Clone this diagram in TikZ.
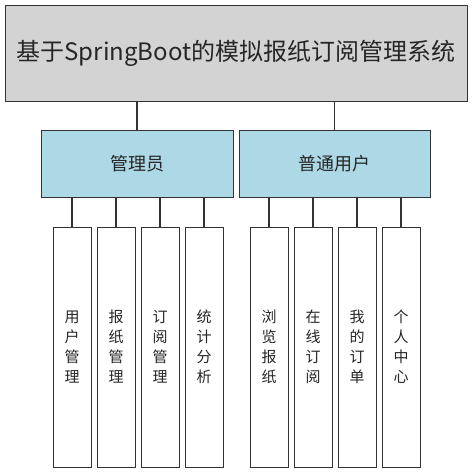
\documentclass[tikz,border=0pt]{standalone}
\usepackage{fontspec}
\newfontfamily\cjk{Noto Sans CJK SC}
\usetikzlibrary{positioning}
\definecolor{roleblue}{HTML}{ADD8E6}
\definecolor{sysgray}{HTML}{D3D3D3}
\tikzset{
	box/.style={draw=black!80, line width=0.9pt, inner sep=0pt, text=black!85},
	link/.style={draw=black!80, line width=1.5pt},
	leafbox/.style={box, fill=white, minimum width=38pt, minimum height=240pt, align=center, font=\cjk\fontsize{15}{20}\selectfont}
}
\begin{document}
\begin{tikzpicture}[x=1pt, y=-1pt]
			%%%%% START %%%%%
			\useasboundingbox (0, 0) rectangle (472, 473);
			
			\node[box, fill=sysgray, minimum width=462pt, minimum height=96pt, font=\cjk\fontsize{24}{28}\selectfont] (sys) at (236, 53) {基于SpringBoot的模拟报纸订阅管理系统};
			
			\node[box, fill=roleblue, minimum width=192pt, minimum height=67pt, font=\cjk\fontsize{18}{22}\selectfont] (admin) at (137, 163.5) {管理员};
			\node[box, fill=roleblue, minimum width=191pt, minimum height=67pt, font=\cjk\fontsize{18}{22}\selectfont] (user) at (334.5, 163.5) {普通用户};
			
			\draw[link] (admin.north) -- (admin.north |- sys.south);
			\draw[link] (user.north) -- (user.north |- sys.south);
			
			\foreach \name/\x/\up/\txt in {usermgr/72/admin/{用\\户\\管\\理}, papermgr/116/admin/{报\\纸\\管\\理}, submgr/160/admin/{订\\阅\\管\\理}, stats/204/admin/{统\\计\\分\\析},
				browse/269/user/{浏\\览\\报\\纸}, subscribe/313/user/{在\\线\\订\\阅}, orders/357/user/{我\\的\\订\\单}, profile/401/user/{个\\人\\中\\心}}
			{
				\node[leafbox] (\name) at (\x, 347) {\txt};
				\draw[link] (\name.north) -- (\name.north |- \up.south);
			}
			
			%%%%% END %%%%%
\end{tikzpicture}
\end{document}
